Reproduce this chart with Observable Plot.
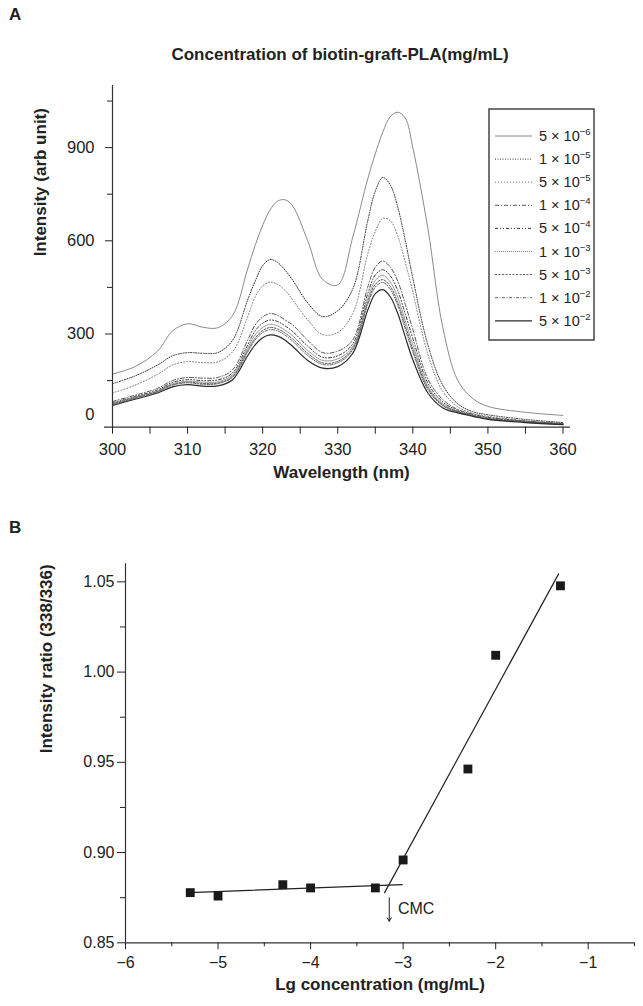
<!DOCTYPE html>
<html><head><meta charset="utf-8">
<script src="https://cdn.jsdelivr.net/npm/d3@7"></script>
<script src="https://cdn.jsdelivr.net/npm/@observablehq/plot@0.6"></script>
<style>
body{margin:0;background:#fff;}
#wrap{position:relative;width:643px;height:1006px;overflow:hidden;font-family:"Liberation Sans",Arial,sans-serif;color:#222;}
.lbl{position:absolute;font-weight:bold;font-size:17px;line-height:20px;white-space:nowrap;}
#wrap > svg{position:absolute;left:0;}
</style></head><body><div id="wrap"></div>
<script>
// ---------- Panel A data ----------
const wavelengths = [300,303,306,308,310,312,314,316,318,319,320,321,322,323,324,326,328,330,332,334,335,336,337,338,339,340,342,344,346,348,350,355,360];
const i_5e6 = [171,195,245,310,333,322,320,360,510,585,650,700,728,732,712,600,475,458,612,800,880,950,1000,1014,995,900,640,320,150,92,67,48,38];
const i_1e5 = [140,165,200,230,240,238,240,280,410,470,520,540,530,505,473,400,356,375,445,665,760,804,780,708,600,480,265,135,75,50,40,25,15];
const i_5e5 = [110,135,170,200,211,208,210,243,355,420,455,467,460,440,410,345,298,305,366,558,630,672,665,615,530,435,235,115,65,45,35,20,12];
const i_1e4 = [83,103,125,150,160,158,160,185,280,329,355,366,360,345,329,280,240,245,281,452,515,535,515,470,395,315,155,89,57,42,32,20,12];
const i_5e4 = [79,99,120,144,153,150,152,175,265,310,335,345,340,326,308,261,225,230,268,430,490,507,487,439,364,286,142,81,54,40,30,18,11];
const i_1e3 = [76,96,117,140,148,145,146,169,255,297,321,331,326,312,294,247,215,220,259,414,472,489,467,418,342,266,132,75,51,38,28,17,10];
const i_5e3 = [75,95,115,137,145,141,142,164,247,287,311,321,316,303,284,238,207,212,253,403,460,475,453,402,327,251,126,71,50,37,27,17,9];
const i_1e2 = [73,93,114,135,143,138,140,161,242,281,305,314,310,296,277,231,202,207,249,396,451,466,444,392,316,242,121,69,49,37,27,16,9];
const i_5e2 = [70,90,110,130,137,132,133,153,230,265,288,297,293,280,260,215,190,195,238,377,430,443,420,366,290,217,110,62,46,35,25,15,8];
const concMantissa = ["5","1","5","1","5","1","5","1","5"];
const concExponent = ["−6","−5","−5","−4","−4","−3","−3","−2","−2"];
const xTicksA = [300,310,320,330,340,350,360];
const xMinorA = [305,315,325,335,345,355];
const yTicksA = [300,600,900];
const yMinorA = [150,450,750,1050];

// ---------- Panel B data ----------
const lgConc = [-5.3,-5.0,-4.3,-4.0,-3.3,-3.0,-2.3,-2.0,-1.3];
const ratio = [0.8778,0.8759,0.8822,0.8804,0.8804,0.8959,0.9463,1.0093,1.0478];
const fitLowX = [-5.31,-3.01];
const fitLowY = [0.8778,0.8822];
const fitHighX = [-3.2,-1.32];
const fitHighY = [0.8778,1.0544];
const cmcX = -3.15;
const cmcArrowY = [0.875,0.8619];
const cmcTextX = -3.056;
const cmcTextY = 0.8689;
const xTicksB = [-6,-5,-4,-3,-2,-1];
const xMinorB = [-5.5,-4.5,-3.5,-2.5,-1.5,-0.5];
const yTicksB = [0.85,0.90,0.95,1.00,1.05];
const yMinorB = [0.875,0.925,0.975,1.025];

// ---------- styles ----------
const series = [i_5e6,i_1e5,i_5e5,i_1e4,i_5e4,i_1e3,i_5e3,i_1e2,i_5e2];
const lineStyles = [
  {stroke:"#8a8a8a", strokeWidth:1},
  {stroke:"#333", strokeWidth:1, strokeDasharray:"1,1.5"},
  {stroke:"#777", strokeWidth:1, strokeDasharray:"1,2"},
  {stroke:"#555", strokeWidth:1, strokeDasharray:"4,2,1,2"},
  {stroke:"#333", strokeWidth:1, strokeDasharray:"3,2,1,2,1,2"},
  {stroke:"#888", strokeWidth:1, strokeDasharray:"1,1"},
  {stroke:"#555", strokeWidth:1, strokeDasharray:"2,1.5"},
  {stroke:"#666", strokeWidth:1, strokeDasharray:"3,1.5,1,1.5"},
  {stroke:"#2a2a2a", strokeWidth:1.2}
];
const FONT = '"Liberation Sans", Arial, Helvetica, sans-serif';
const minus = d => d < 0 ? "\u2212" + Math.abs(d) : String(d);

const wrap = document.getElementById("wrap");

// ---------- Panel A ----------
const lineMarks = series.map((vals, k) =>
  Plot.line(wavelengths.map((w, i) => ({w, v: vals[i]})),
    {x: "w", y: "v", curve: "catmull-rom", ...lineStyles[k]}));

const plotA = Plot.plot({
  width: 643, height: 500,
  marginLeft: 112, marginRight: 73, marginTop: 85, marginBottom: 73.3,
  x: {domain: [300, 361], label: null},
  y: {domain: [0, 1100], label: null},
  style: {fontFamily: FONT, fontSize: "16.5px", color: "#222", background: "transparent", overflow: "visible"},
  marks: [
    ...lineMarks,
    Plot.ruleX([300], {stroke: "#333", strokeWidth: 1.2}),
    Plot.ruleY([0], {stroke: "#333", strokeWidth: 1.2, insetLeft: -8}),
    Plot.axisX(xTicksA, {tickSize: 7, tickPadding: 9, label: null, tickFormat: d => String(d)}),
    Plot.axisX(xMinorA, {tickSize: 7, label: null, tickFormat: () => ""}),
    Plot.axisY(yTicksA, {tickSize: 7, tickPadding: 11, label: null, tickFormat: d => String(d)}),
    Plot.axisY([0], {tickSize: 0, tickPadding: 18, dy: -12, label: null, tickFormat: d => String(d)}),
    Plot.axisY(yMinorA, {tickSize: 5, label: null, tickFormat: () => ""}),
    Plot.text(["Wavelength (nm)"], {text: d => d, frameAnchor: "bottom", dy: 51, fontWeight: "bold", fontSize: 17}),
    Plot.text(["Intensity (arb unit)"], {text: d => d, frameAnchor: "left", rotate: -90, dx: -72, fontWeight: "bold", fontSize: 17})
  ]
});
plotA.style.top = "0px";
wrap.appendChild(plotA);

// legend (line styles)
const leg = d3.select(wrap).append("svg")
  .attr("width", 110).attr("height", 236)
  .style("left", "488px").style("top", "108px").style("position", "absolute");
leg.append("rect").attr("x", 1).attr("y", 1).attr("width", 105).attr("height", 231)
  .attr("fill", "white").attr("stroke", "#444").attr("stroke-width", 1.5);
series.forEach((s, k) => {
  const cy = 28 + k * 23.1;
  const st = lineStyles[k];
  leg.append("line").attr("x1", 7).attr("x2", 44).attr("y1", cy).attr("y2", cy)
    .attr("stroke", st.stroke).attr("stroke-width", st.strokeWidth)
    .attr("stroke-dasharray", st.strokeDasharray || null);
  const t = leg.append("text").attr("x", 51).attr("y", cy + 5)
    .attr("font-family", FONT).attr("font-size", 14.5).attr("fill", "#222");
  t.append("tspan").text(concMantissa[k] + " \u00d7 10");
  t.append("tspan").attr("font-size", 9.5).attr("dy", -6).text(concExponent[k]);
});

// ---------- Panel B ----------
const pts = lgConc.map((x, i) => ({x, y: ratio[i]}));
const plotB = Plot.plot({
  width: 643, height: 506,
  marginLeft: 125, marginRight: 9, marginTop: 63.3, marginBottom: 63.7,
  x: {domain: [-6, -0.5], label: null},
  y: {domain: [0.85, 1.06], label: null},
  style: {fontFamily: FONT, fontSize: "16px", color: "#222", background: "transparent", overflow: "visible"},
  marks: [
    Plot.ruleX([-6], {stroke: "#333", strokeWidth: 1.2}),
    Plot.ruleY([0.85], {stroke: "#333", strokeWidth: 1.2}),
    Plot.axisX(xTicksB, {tickSize: 7, tickPadding: 7, label: null, tickFormat: minus}),
    Plot.axisX(xMinorB, {tickSize: 4, label: null, tickFormat: () => ""}),
    Plot.axisY(yTicksB, {tickSize: 8, tickPadding: 3, label: null, tickFormat: d3.format(".2f")}),
    Plot.axisY(yMinorB, {tickSize: 5, label: null, tickFormat: () => ""}),
    Plot.line(fitLowX.map((x, i) => ({x, y: fitLowY[i]})), {x: "x", y: "y", stroke: "#222", strokeWidth: 1.2}),
    Plot.line(fitHighX.map((x, i) => ({x, y: fitHighY[i]})), {x: "x", y: "y", stroke: "#222", strokeWidth: 1.2}),
    Plot.dot(pts, {x: "x", y: "y", symbol: "square", r: 5, fill: "#1a1a1a"}),
    Plot.arrow([0], {x1: () => cmcX, x2: () => cmcX, y1: () => cmcArrowY[0], y2: () => cmcArrowY[1], stroke: "#222", strokeWidth: 1, headLength: 6}),
    Plot.text(["CMC"], {text: d => d, x: () => cmcTextX, y: () => cmcTextY, textAnchor: "start", fontSize: 16}),
    Plot.text(["Lg concentration (mg/mL)"], {text: d => d, frameAnchor: "bottom", dy: 47, fontWeight: "bold", fontSize: 17}),
    Plot.text(["Intensity ratio (338/336)"], {text: d => d, frameAnchor: "left", rotate: -90, dx: -79, fontWeight: "bold", fontSize: 17})
  ]
});
plotB.style.top = "500px";
wrap.appendChild(plotB);

// ---------- panel letters and title ----------
function addLabel(txt, css) {
  const d = document.createElement("div");
  d.className = "lbl";
  d.textContent = txt;
  Object.assign(d.style, css);
  wrap.appendChild(d);
}
addLabel("A", {left: "9px", top: "5px"});
addLabel("B", {left: "9px", top: "518px"});
addLabel("Concentration of biotin-graft-PLA(mg/mL)", {left: "90px", width: "500px", textAlign: "center", top: "45px"});
</script>
</body></html>
